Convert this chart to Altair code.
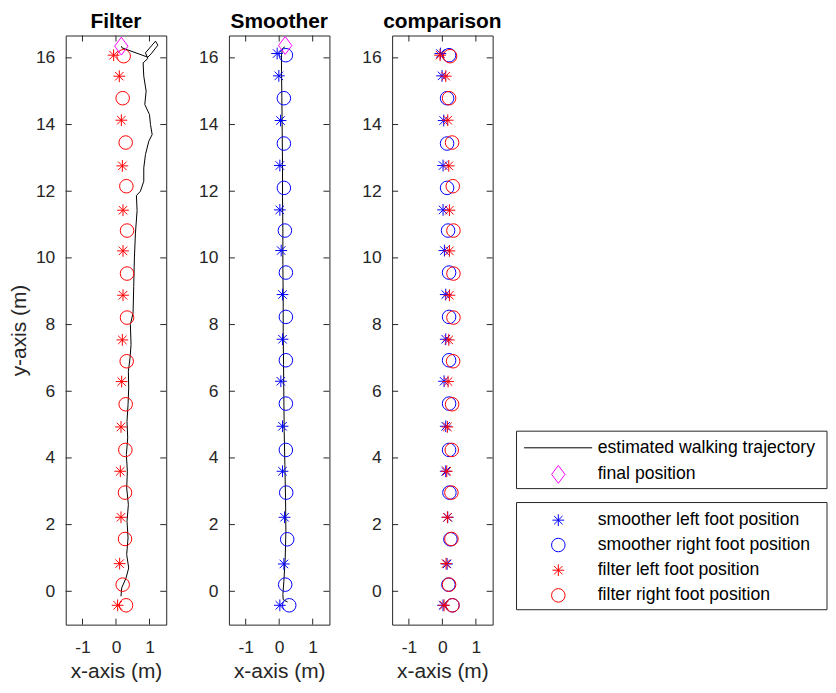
import altair as alt
import pandas as pd

# ---------------- data ----------------
filter_left_x = [0.05, 0.11, 0.15, 0.13, 0.15, 0.17, 0.19, 0.21, 0.21, 0.21, 0.19, 0.16, 0.10, -0.07]
filter_left_y = [-0.42, 0.83, 2.22, 3.60, 4.93, 6.29, 7.54, 8.88, 10.21, 11.43, 12.76, 14.13, 15.45, 16.08]
filter_right_x = [0.30, 0.20, 0.27, 0.27, 0.28, 0.29, 0.32, 0.33, 0.33, 0.33, 0.31, 0.29, 0.20, 0.23]
filter_right_y = [-0.42, 0.20, 1.57, 2.96, 4.24, 5.61, 6.90, 8.21, 9.53, 10.82, 12.15, 13.46, 14.79, 16.05]

smoother_left_x = [0.02, 0.14, 0.16, 0.10, 0.10, 0.05, 0.10, 0.10, 0.06, 0.02, 0.02, 0.04, -0.01, -0.06]
smoother_left_y = [-0.42, 0.82, 2.22, 3.60, 4.95, 6.30, 7.56, 8.90, 10.22, 11.44, 12.77, 14.12, 15.46, 16.13]
smoother_right_x = [0.30, 0.18, 0.24, 0.21, 0.20, 0.20, 0.20, 0.20, 0.20, 0.17, 0.14, 0.14, 0.14, 0.20]
smoother_right_y = [-0.42, 0.20, 1.56, 2.96, 4.24, 5.63, 6.93, 8.23, 9.56, 10.82, 12.10, 13.43, 14.79, 16.08]

filter_traj_x = [0.15, 0.17, 0.30, 0.38, 0.32, 0.36, 0.33, 0.37, 0.32, 0.34, 0.31, 0.35, 0.33, 0.36,
                 0.38, 0.37, 0.42, 0.45, 0.43, 0.51, 0.53, 0.55, 0.58, 0.63, 0.61, 0.73, 0.83, 0.83,
                 0.88, 0.98, 1.08, 1.03, 1.00, 0.86, 0.90, 0.83, 0.81, 0.95, 0.88, 1.18, 1.25, 1.05,
                 0.95, 0.18, 0.16]
filter_traj_y = [-0.15, 0.10, 0.40, 0.70, 1.10, 1.60, 2.10, 2.60, 3.10, 3.60, 4.10, 4.60, 5.10, 5.60,
                 6.10, 6.60, 7.00, 7.40, 8.00, 8.35, 9.15, 10.00, 10.72, 11.42, 11.87, 12.00, 12.30, 12.70,
                 13.10, 13.50, 13.70, 14.00, 14.30, 14.60, 15.00, 15.45, 15.85, 15.98, 16.15, 16.50, 16.38, 16.12,
                 16.02, 16.30, 16.35]

smoother_traj_x = [0.25, 0.12, 0.11, 0.14, 0.18, 0.20, 0.19, 0.17, 0.15, 0.14, 0.13, 0.12, 0.12, 0.11,
                   0.11, 0.10, 0.10, 0.09, 0.08, 0.07, 0.07, 0.10, 0.17]
smoother_traj_y = [-0.32, -0.25, -0.10, 0.30, 1.00, 1.80, 2.80, 3.80, 4.80, 5.80, 6.80, 7.80, 8.80, 9.80,
                   10.80, 11.80, 12.80, 13.80, 14.80, 15.60, 16.10, 16.28, 16.33]

filter_final_x, filter_final_y = [0.16], [16.35]
smoother_final_x, smoother_final_y = [0.18], [16.37]

x_ticks = [-1, 0, 1]
y_ticks = [0, 2, 4, 6, 8, 10, 12, 14, 16]

panel_titles = ["Filter", "Smoother", "comparison"]
legend_labels = ["estimated walking trajectory", "final position",
                 "smoother left foot position", "smoother right foot position",
                 "filter left foot position", "filter right foot position"]

# ---------------- styling ----------------
W, H = 101, 592
XDOM = [-1.5, 1.5]
YDOM = [-1.0, 16.67]
FONT = "Liberation Sans"
AX = "#262626"
RED, BLUE, MAG = "#FF0000", "#0000FF", "#FF00FF"
STAR = "M0,-1L0,1M-1,0L1,0M-0.72,-0.72L0.72,0.72M-0.72,0.72L0.72,-0.72"
DIAMOND = "M0,-1L0.75,0L0,1L-0.75,0Z"
TICK = 6
MSIZE_STAR = 140
MSIZE_CIRC = 185
MSIZE_DIAM = 320
TICK_FS = 17.5
LABEL_FS = 21
TITLE_FS = 21
LEG_FS = 17.7

xs = alt.Scale(domain=XDOM, nice=False, zero=False)
ys = alt.Scale(domain=YDOM, nice=False, zero=False)


def xaxis():
    return alt.Axis(values=x_ticks, ticks=False, tickSize=0, domain=False, grid=False,
                    labelFontSize=TICK_FS, labelFont=FONT, labelColor=AX, labelPadding=14,
                    labelExpr="'' + datum.value",
                    title="x-axis (m)", titleFont=FONT, titleFontSize=LABEL_FS,
                    titleFontWeight="normal", titleColor=AX, titlePadding=5)


def yaxis(show_title):
    kw = dict(values=y_ticks, ticks=False, tickSize=0, domain=False, grid=False,
              labelFontSize=TICK_FS, labelFont=FONT, labelColor=AX, labelPadding=11,
              labelExpr="'' + datum.value")
    if show_title:
        kw.update(title="y-axis (m)", titleFont=FONT, titleFontSize=LABEL_FS,
                  titleFontWeight="normal", titleColor=AX, titlePadding=6)
    else:
        kw.update(title="")
    return alt.Axis(**kw)


def pts(xv, yv):
    return pd.DataFrame({"x": xv, "y": yv})


class Panel:
    def __init__(self, show_ytitle):
        self.xa = xaxis()
        self.ya = yaxis(show_ytitle)

    def X(self, f="x"):
        return alt.X(f"{f}:Q", scale=xs, axis=self.xa)

    def Y(self, f="y"):
        return alt.Y(f"{f}:Q", scale=ys, axis=self.ya)

    def traj(self, xv, yv):
        df = pts(xv, yv)
        df["i"] = range(len(df))
        return alt.Chart(df).mark_line(color="black", strokeWidth=1).encode(
            x=self.X(), y=self.Y(), order="i:Q")

    def marker(self, xv, yv, shape, color, size):
        return alt.Chart(pts(xv, yv)).mark_point(
            shape=shape, filled=False, stroke=color, strokeWidth=1, size=size, opacity=1
        ).encode(x=self.X(), y=self.Y())

    def ticks(self):
        yt = pd.DataFrame({"y": y_ticks})
        xt = pd.DataFrame({"x": x_ticks})
        r = dict(color=AX, strokeWidth=1)
        left = alt.Chart(yt).mark_rule(**r).encode(y=self.Y(), x=alt.value(0), x2=alt.value(TICK))
        right = alt.Chart(yt).mark_rule(**r).encode(y=self.Y(), x=alt.value(W), x2=alt.value(W - TICK))
        top = alt.Chart(xt).mark_rule(**r).encode(x=self.X(), y=alt.value(0), y2=alt.value(TICK))
        bottom = alt.Chart(xt).mark_rule(**r).encode(x=self.X(), y=alt.value(H), y2=alt.value(H - TICK))
        return [left, right, top, bottom]


def ptitle(text):
    return alt.TitleParams(text, font=FONT, fontSize=TITLE_FS, fontWeight="bold", color="black",
                           anchor="middle", offset=3)


pf = Panel(True)
p_filter = alt.layer(
    pf.traj(filter_traj_x, filter_traj_y),
    pf.marker(filter_left_x, filter_left_y, STAR, RED, MSIZE_STAR),
    pf.marker(filter_right_x, filter_right_y, "circle", RED, MSIZE_CIRC),
    pf.marker(filter_final_x, filter_final_y, DIAMOND, MAG, MSIZE_DIAM),
    *pf.ticks(),
).properties(width=W, height=H, title=ptitle(panel_titles[0]))

ps = Panel(False)
p_smooth = alt.layer(
    ps.traj(smoother_traj_x, smoother_traj_y),
    ps.marker(smoother_left_x, smoother_left_y, STAR, BLUE, MSIZE_STAR),
    ps.marker(smoother_right_x, smoother_right_y, "circle", BLUE, MSIZE_CIRC),
    ps.marker(smoother_final_x, smoother_final_y, DIAMOND, MAG, MSIZE_DIAM),
    *ps.ticks(),
).properties(width=W, height=H, title=ptitle(panel_titles[1]))

pc = Panel(False)
p_comp = alt.layer(
    pc.marker(smoother_left_x, smoother_left_y, STAR, BLUE, MSIZE_STAR),
    pc.marker(smoother_right_x, smoother_right_y, "circle", BLUE, MSIZE_CIRC),
    pc.marker(filter_left_x, filter_left_y, STAR, RED, MSIZE_STAR),
    pc.marker(filter_right_x, filter_right_y, "circle", RED, MSIZE_CIRC),
    *pc.ticks(),
).properties(width=W, height=H, title=ptitle(panel_titles[2]))

# ---------------- legend panel ----------------
LW = 313
lxs = alt.Scale(domain=[0, LW], range=[0, LW], nice=False, zero=False)
lys = alt.Scale(domain=[0, H], range=[0, H], nice=False, zero=False)

row_pos = [414.3, 441.0, 487.0, 512.0, 537.3, 562.6]
leg = pd.DataFrame({"label": legend_labels, "py": row_pos})
leg["tx"] = 81.6
leg["mx"] = 42.0
leg["lx0"] = 7.6
leg["lx1"] = 76.0

boxes = pd.DataFrame({"x0": [0.0, 0.0], "x1": [LW - 1.0, LW - 1.0],
                      "y0": [397.6, 469.3], "y1": [455.3, 577.0]})

box_l = alt.Chart(boxes).mark_rect(fill="white", stroke=AX, strokeWidth=1).encode(
    x=alt.X("x0:Q", scale=lxs, axis=None), x2="x1:Q",
    y=alt.Y("y0:Q", scale=lys, axis=None), y2="y1:Q")

txt_l = alt.Chart(leg).mark_text(align="left", baseline="middle", font=FONT, fontSize=LEG_FS,
                                 color="black").encode(
    x=alt.X("tx:Q", scale=lxs, axis=None), y=alt.Y("py:Q", scale=lys, axis=None),
    text="label:N")

line_l = alt.Chart(leg.iloc[[0]]).mark_rule(color="black", strokeWidth=1).encode(
    x=alt.X("lx0:Q", scale=lxs, axis=None), x2="lx1:Q",
    y=alt.Y("py:Q", scale=lys, axis=None))


def leg_marker(idx, shape, color, size):
    return alt.Chart(leg.iloc[[idx]]).mark_point(shape=shape, filled=False, stroke=color,
                                                 strokeWidth=1, size=size, opacity=1).encode(
        x=alt.X("mx:Q", scale=lxs, axis=None), y=alt.Y("py:Q", scale=lys, axis=None))


p_legend = alt.layer(
    box_l, txt_l, line_l,
    leg_marker(1, DIAMOND, MAG, MSIZE_DIAM),
    leg_marker(2, STAR, BLUE, MSIZE_STAR),
    leg_marker(3, "circle", BLUE, MSIZE_CIRC),
    leg_marker(4, STAR, RED, MSIZE_STAR),
    leg_marker(5, "circle", RED, MSIZE_CIRC),
).properties(width=LW, height=H, view=alt.ViewBackground(stroke=None),
             title=alt.TitleParams(" ", font=FONT, fontSize=TITLE_FS, fontWeight="bold", offset=3))

panels = alt.hconcat(p_filter, p_smooth, p_comp, spacing=31)
chart = alt.hconcat(panels, p_legend, spacing=13).properties(padding=0).configure_view(
    stroke=AX, strokeWidth=1
)

chart.save("out.html", embed_options={"renderer": "svg", "actions": False})
